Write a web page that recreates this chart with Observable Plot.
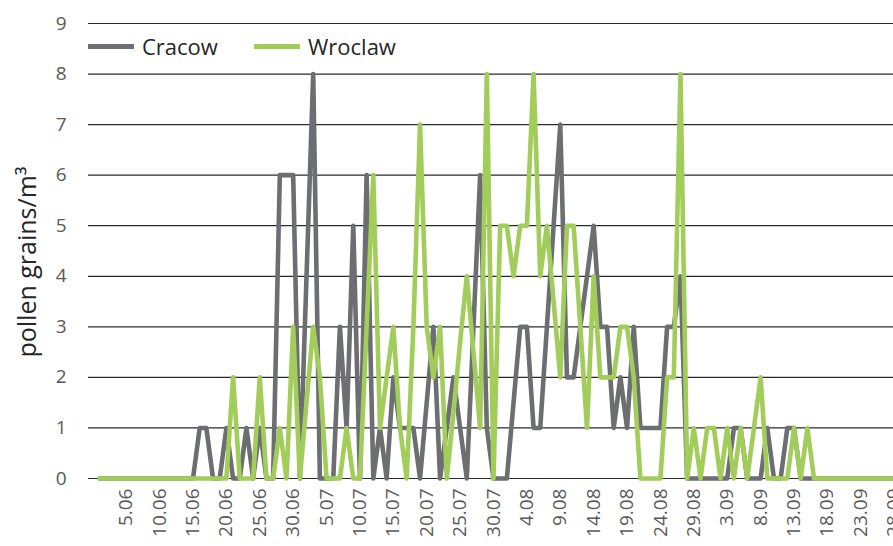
<!DOCTYPE html>
<html>
<head>
<meta charset="utf-8">
<script src="https://cdn.jsdelivr.net/npm/d3@7"></script>
<script src="https://cdn.jsdelivr.net/npm/@observablehq/plot@0.6"></script>
<style>
  body { margin: 0; background: #fff; }
  #wrap { position: relative; width: 893px; height: 546px; overflow: hidden; font-family: "Open Sans", Lato, sans-serif; }
  #ytitle { position: absolute; left: 26px; top: 262px; transform: translate(-50%, -50%) rotate(-90deg); white-space: nowrap; font-size: 25px; color: #262626; }
  .leg { position: absolute; top: 31px; display: flex; align-items: center; font-size: 22px; color: #262626; white-space: nowrap; }
  .sw { display: inline-block; width: 46px; height: 5px; margin-right: 8px; }
</style>
</head>
<body>
<div id="wrap"></div>
<script>
// Day index 0 = 1 June, 119 = 28 September
const cracow = [
  0,0,0,0,0,0,0,0,0,0, 0,0,0,0,0,1,1,0,0,1,
  0,0,1,0,1,0,0,6,6,6, 0,4,8,0,0,0,3,1,5,0,
  6,0,1,0,2,1,1,1,0,1.5, 3,0,1,2,1,0,3,6,1,0,
  0,0,1.5,3,3,1,1,3,5,7, 2,2,3,4,5,3,3,1,2,1,
  3,1,1,1,1,3,3,4,0,0, 0,0,0,0,0,1,1,0,0,0,
  1,0,0,1,1,0,0,0,0,0, 0,0,0,0,0,0,0,0,0,0
];
const wroclaw = [
  0,0,0,0,0,0,0,0,0,0, 0,0,0,0,0,0,0,0,0,0,
  2,0,0,0,2,0,0,1,0,3, 0,1.5,3,2,0,0,0,1,0,0,
  3,6,1,2,3,1,0,3,7,3, 2,3,0,1.3,2.7,4,2.5,1,8,0,
  5,5,4,5,5,8,4,5,3.5,2, 5,5,3,1,4,2,2,2,3,3,
  2,0,0,0,0,2,2,8,0,1, 0,1,1,0,1,0,1,0,1,2,
  0,0,0,0,1,0,1,0,0,0, 0,0,0,0,0,0,0,0,0,0
];
const tickDays = [4,9,14,19,24,29,34,39,44,49,54,59,64,69,74,79,84,89,94,99,104,109,114,119];
const tickLabels = ["5.06","10.06","15.06","20.06","25.06","30.06","5.07","10.07","15.07","20.07","25.07","30.07","4.08","9.08","14.08","19.08","24.08","29.08","3.09","8.09","13.09","18.09","23.09","28.09"];
const yTicks = [0,1,2,3,4,5,6,7,8,9];
const seriesNames = ["Cracow", "Wroclaw"];
const seriesColors = ["#6d6e71", "#a2cd5b"];

const rows = [];
cracow.forEach((v, i) => rows.push({day: i, value: v, city: "Cracow"}));
wroclaw.forEach((v, i) => rows.push({day: i, value: v, city: "Wroclaw"}));
const labelOf = new Map(tickDays.map((d, i) => [d, tickLabels[i]]));

const chart = Plot.plot({
  width: 893,
  height: 546,
  marginLeft: 88,
  marginRight: 0,
  marginTop: 23,
  marginBottom: 68,
  style: {fontFamily: "'Open Sans', Lato, sans-serif", background: "#fff", overflow: "visible"},
  x: {domain: [-1.65, 118.9], axis: null},
  y: {domain: [0, 9], axis: null},
  color: {domain: seriesNames, range: seriesColors},
  marks: [
    Plot.ruleY(yTicks, {stroke: "#2a2a2a", strokeWidth: 1.2}),
    Plot.axisY(yTicks, {tickSize: 0, tickPadding: 22, fontSize: 19, fill: "#595959", label: null,
      tickFormat: d => String(d)}),
    Plot.axisX(tickDays, {tickRotate: -90, tickSize: 0, tickPadding: 10, fontSize: 19, fill: "#595959", label: null,
      tickFormat: d => labelOf.get(d)}),
    Plot.line(rows, {x: "day", y: "value", z: "city", stroke: "city", strokeWidth: 4.6,
      strokeLinejoin: "round", strokeLinecap: "round"})
  ]
});

const wrap = document.getElementById("wrap");
wrap.appendChild(chart);

const yt = document.createElement("div");
yt.id = "ytitle";
yt.innerHTML = "pollen grains/m³";
wrap.appendChild(yt);

const legLeft = [88, 254];
seriesNames.forEach((name, i) => {
  const d = document.createElement("div");
  d.className = "leg";
  d.style.left = legLeft[i] + "px";
  d.innerHTML = `<span class="sw" style="background:${seriesColors[i]}"></span>${name}`;
  wrap.appendChild(d);
});
</script>
</body>
</html>
